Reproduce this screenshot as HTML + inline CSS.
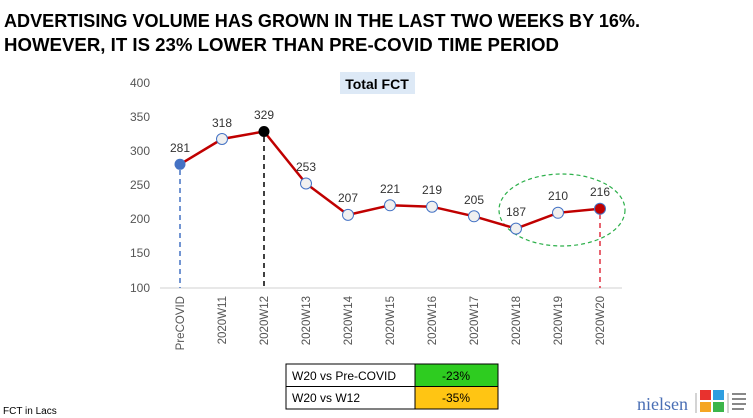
<!DOCTYPE html>
<html><head><meta charset="utf-8"><style>
body{margin:0;background:#fff;}
svg{display:block;font-family:"Liberation Sans",sans-serif;}
</style></head><body>
<svg width="753" height="418" viewBox="0 0 753 418" xmlns="http://www.w3.org/2000/svg">
<text x="4" y="27" font-size="18.5" font-weight="bold" textLength="636" lengthAdjust="spacingAndGlyphs">ADVERTISING VOLUME HAS GROWN IN THE LAST TWO WEEKS BY 16%.</text>
<text x="4" y="51" font-size="18.5" font-weight="bold" textLength="555" lengthAdjust="spacingAndGlyphs">HOWEVER, IT IS 23% LOWER THAN PRE-COVID TIME PERIOD</text>
<rect x="340" y="72" width="75" height="22" fill="#dde9f6"/>
<text x="377" y="89" font-size="14" font-weight="bold" text-anchor="middle">Total FCT</text>
<g font-size="12" fill="#555" text-anchor="end">
<text x="150" y="87">400</text><text x="150" y="121">350</text><text x="150" y="155">300</text><text x="150" y="189">250</text><text x="150" y="223">200</text><text x="150" y="257">150</text><text x="150" y="292">100</text>
</g>
<line x1="160" y1="288" x2="622" y2="288" stroke="#d0d0d0" stroke-width="1"/>
<line x1="180" y1="170" x2="180" y2="288" stroke="#4472c4" stroke-width="1.5" stroke-dasharray="5,4"/>
<line x1="264" y1="137" x2="264" y2="288" stroke="#000" stroke-width="1.5" stroke-dasharray="5,4"/>
<line x1="600" y1="214" x2="600" y2="288" stroke="#e03040" stroke-width="1.5" stroke-dasharray="5,4"/>
<ellipse cx="562" cy="210" rx="63" ry="36" fill="none" stroke="#2db04b" stroke-width="1.2" stroke-dasharray="4,3"/>
<polyline fill="none" stroke="#c00000" stroke-width="2.5" points="180,164.3 222,139 264,131.5 306,183.5 348,214.9 390,205.3 432,206.7 474,216.3 516,228.6 558,212.8 600,208.7"/>
<g stroke="#4472c4" stroke-width="1" fill="#f0f0f0">
<circle cx="222" cy="139" r="5.5"/><circle cx="306" cy="183.5" r="5.5"/><circle cx="348" cy="214.9" r="5.5"/><circle cx="390" cy="205.3" r="5.5"/><circle cx="432" cy="206.7" r="5.5"/><circle cx="474" cy="216.3" r="5.5"/><circle cx="516" cy="228.6" r="5.5"/><circle cx="558" cy="212.8" r="5.5"/>
</g>
<circle cx="180" cy="164.3" r="5.5" fill="#4472c4"/>
<circle cx="264" cy="131.5" r="5.5" fill="#000"/>
<circle cx="600" cy="208.7" r="5.5" fill="#c00000" stroke="#4472c4" stroke-width="1"/>
<g font-size="12" fill="#333" text-anchor="middle">
<text x="180" y="152">281</text><text x="222" y="127">318</text><text x="264" y="119">329</text><text x="306" y="171">253</text><text x="348" y="202">207</text><text x="390" y="193">221</text><text x="432" y="194">219</text><text x="474" y="204">205</text><text x="516" y="216">187</text><text x="558" y="200">210</text><text x="600" y="196">216</text>
</g>
<g font-size="11.5" fill="#555" text-anchor="end">
<text transform="translate(184,296) rotate(-90)">PreCOVID</text>
<text transform="translate(226,296) rotate(-90)">2020W11</text>
<text transform="translate(268,296) rotate(-90)">2020W12</text>
<text transform="translate(310,296) rotate(-90)">2020W13</text>
<text transform="translate(352,296) rotate(-90)">2020W14</text>
<text transform="translate(394,296) rotate(-90)">2020W15</text>
<text transform="translate(436,296) rotate(-90)">2020W16</text>
<text transform="translate(478,296) rotate(-90)">2020W17</text>
<text transform="translate(520,296) rotate(-90)">2020W18</text>
<text transform="translate(562,296) rotate(-90)">2020W19</text>
<text transform="translate(604,296) rotate(-90)">2020W20</text>
</g>
<rect x="415" y="364" width="83" height="22" fill="#2ecc20"/>
<rect x="415" y="387" width="83" height="22" fill="#ffc513"/>
<rect x="286" y="364" width="212" height="45" fill="none" stroke="#000" stroke-width="1"/>
<line x1="286" y1="386.5" x2="498" y2="386.5" stroke="#000"/>
<line x1="415" y1="364" x2="415" y2="409" stroke="#000"/>
<g font-size="12">
<text x="292" y="380">W20 vs Pre-COVID</text><text x="292" y="402">W20 vs W12</text>
<text x="456" y="380" text-anchor="middle">-23%</text><text x="456" y="402" text-anchor="middle">-35%</text>
</g>
<text x="3" y="414" font-size="10">FCT in Lacs</text>
<text x="637" y="410" font-size="18" fill="#4a6fb5" font-family="Liberation Serif,serif">nielsen</text>
<line x1="696" y1="393" x2="696" y2="413" stroke="#aaa"/>
<rect x="700" y="390" width="11" height="10" fill="#e8322e"/><rect x="713" y="390" width="11" height="10" fill="#2e9ee0"/>
<rect x="700" y="402" width="11" height="10" fill="#f5a623"/><rect x="713" y="402" width="11" height="10" fill="#3cb54a"/>
<line x1="728" y1="393" x2="728" y2="413" stroke="#aaa"/>
<g fill="#888"><rect x="732" y="393" width="14" height="2"/><rect x="732" y="398" width="14" height="2"/><rect x="732" y="403" width="14" height="2"/><rect x="732" y="408" width="12" height="2"/></g>
</svg>
</body></html>
